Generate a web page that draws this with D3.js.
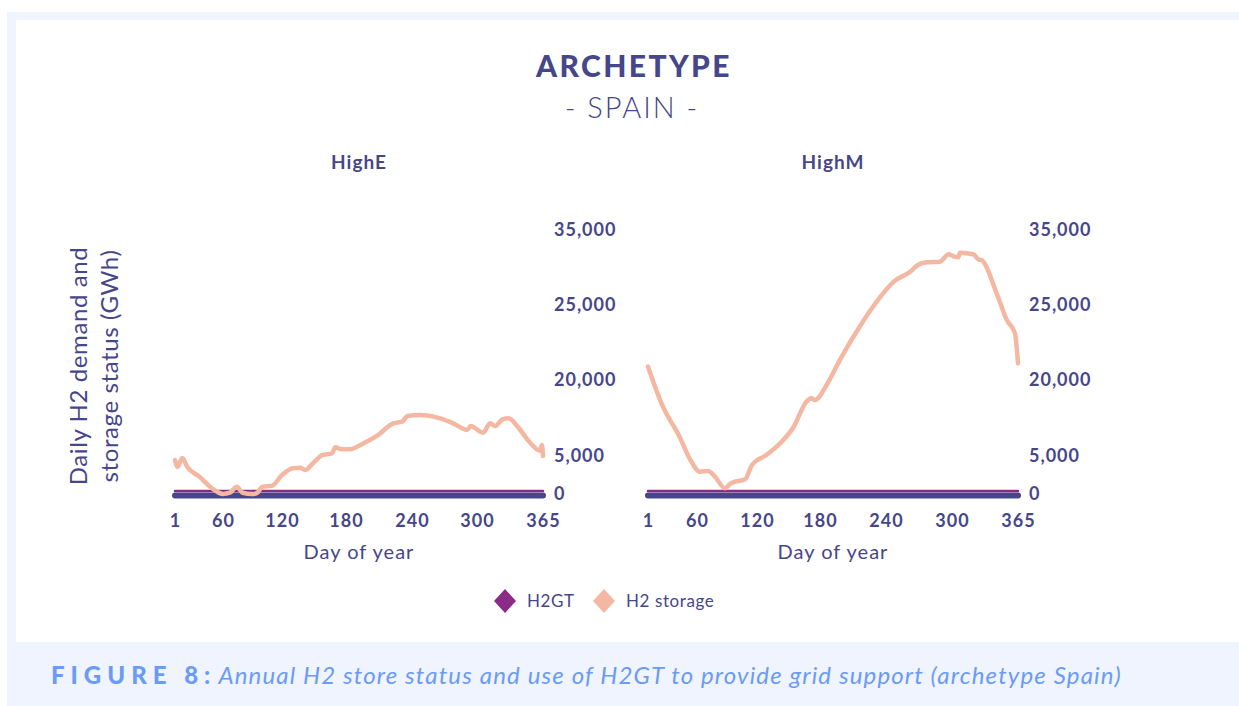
<!DOCTYPE html>
<html><head><meta charset="utf-8">
<script src="https://cdn.jsdelivr.net/npm/d3@7"></script>
<style>
body{margin:0;background:#fff}
svg{display:block}
text{font-family:Lato,'Open Sans',sans-serif}
</style>
</head><body><svg id="c" width="1239" height="706"></svg>
<script>
// ---------- data ----------
const panels = ["HighE", "HighM"];
const seriesNames = ["H2GT", "H2 storage"];
const xTicks = [1, 60, 120, 180, 240, 300, 365];
const yTicks = [0, 5000, 20000, 25000, 35000];

const highEDays    = [1, 4, 10, 16, 31, 46, 60, 67, 74, 80, 90, 95, 100, 110, 120, 130, 137, 142, 149, 158, 167, 170, 176, 184, 193, 208, 223, 231, 236, 247, 266, 278, 291, 294, 306, 313, 318, 325, 331, 340, 350, 359, 362, 364, 365];
const highEStorage = [4470, 3590, 4740, 3590, 2280, 790, 0, 170, 960, 170, 0, 170, 960, 1090, 2500, 3380, 3460, 3160, 4040, 5200, 5530, 6720, 6320, 6320, 7170, 8950, 11450, 11770, 12900, 13100, 12430, 11450, 10130, 10920, 9600, 11450, 10920, 12240, 12430, 10800, 8170, 6320, 6050, 7170, 5000];

const highMDays    = [1, 19, 39, 51, 63, 71, 78, 88, 93, 98, 108, 115, 129, 142, 155, 167, 172, 175, 186, 198, 216, 235, 247, 262, 269, 277, 289, 297, 301, 306, 308, 321, 326, 329, 344, 354, 362, 365];
const highMStorage = [20890, 14730, 8810, 4700, 2930, 3030, 2280, 750, 1320, 1620, 1930, 3820, 5200, 7510, 10780, 15720, 16390, 16050, 19010, 21330, 23550, 26110, 28110, 29440, 30330, 30690, 30780, 31760, 31530, 31360, 31970, 31760, 31090, 31000, 26560, 24000, 23110, 21110];

const h2gtDays  = [1, 365];
const h2gtHighE = [400, 400];
const h2gtHighM = [400, 400];

// ---------- style ----------
const NAVY = "#46468a", PURPLE = "#8a2c86", PEACH = "#f4b8a2";
const CAP = "#6b9bf5", BG = "#eff4fe";

const svg = d3.select("#c");

// frame
svg.append("rect").attr("x", 7).attr("y", 12).attr("width", 1232).attr("height", 694).attr("fill", BG);
svg.append("rect").attr("x", 16).attr("y", 20).attr("width", 1223).attr("height", 622).attr("fill", "#fff");

// titles
svg.append("text").attr("x", 634).attr("y", 77).attr("text-anchor", "middle")
  .attr("font-size", 30).attr("font-weight", 900).attr("letter-spacing", 2.4).attr("fill", NAVY).text("ARCHETYPE");
svg.append("text").attr("x", 632).attr("y", 118).attr("text-anchor", "middle")
  .attr("font-size", 29).attr("font-weight", 300).attr("letter-spacing", 2).attr("fill", NAVY).text("- SPAIN -");

// y axis title
const yt = svg.append("text").attr("transform", "translate(0,366) rotate(-90)")
  .attr("text-anchor", "middle").attr("font-size", 24).attr("fill", NAVY).attr("letter-spacing", 0.6);
yt.append("tspan").attr("x", 0).attr("y", 87).text("Daily H2 demand and");
yt.append("tspan").attr("x", 0).attr("y", 118).text("storage status (GWh)");

const y = d3.scaleLinear().domain(yTicks).range([494, 456, 380, 305, 230]);

const panelDefs = [
  {name: panels[0], xr: [175, 223, 282, 346, 412, 477, 543], ax: 554, days: highEDays, st: highEStorage, gt: h2gtHighE},
  {name: panels[1], xr: [648, 697, 757, 820, 886, 952, 1018], ax: 1029, days: highMDays, st: highMStorage, gt: h2gtHighM}
];

panelDefs.forEach(p => {
  const x = d3.scaleLinear().domain(xTicks).range(p.xr);
  const cx = (p.xr[0] + p.xr[p.xr.length - 1]) / 2;
  const g = svg.append("g");

  g.append("text").attr("x", cx).attr("y", 169).attr("text-anchor", "middle")
    .attr("font-size", 19).attr("font-weight", 700).attr("fill", NAVY).attr("letter-spacing", 1).text(p.name);

  // thick base axis line
  g.append("line").attr("x1", x(1)).attr("x2", x(365)).attr("y1", y(0) + 1.5).attr("y2", y(0) + 1.5)
    .attr("stroke", NAVY).attr("stroke-width", 6).attr("stroke-linecap", "round");

  // H2GT series
  const gtData = h2gtDays.map((d, i) => [d, p.gt[i]]);
  g.append("path").datum(gtData)
    .attr("d", d3.line().x(d => x(d[0])).y(d => y(d[1])))
    .attr("fill", "none").attr("stroke", PURPLE).attr("stroke-width", 2.5).attr("stroke-linecap", "round");

  // H2 storage series
  const stData = p.days.map((d, i) => [d, p.st[i]]);
  g.append("path").datum(stData)
    .attr("d", d3.line().x(d => x(d[0])).y(d => y(d[1])).curve(d3.curveMonotoneX))
    .attr("fill", "none").attr("stroke", PEACH).attr("stroke-width", 4.5)
    .attr("stroke-linejoin", "round").attr("stroke-linecap", "round");

  // x axis
  const xa = g.append("g").attr("transform", `translate(0,${y(0)})`)
    .call(d3.axisBottom(x).tickValues(xTicks).tickSize(0).tickPadding(20).tickFormat(d3.format("d")));
  xa.select(".domain").remove();
  xa.selectAll("text").attr("font-size", 18).attr("font-weight", 700)
    .attr("fill", NAVY).attr("letter-spacing", 1).style("font-family", "Lato,'Open Sans',sans-serif");

  // y axis (right)
  const ya = g.append("g").attr("transform", `translate(${p.ax},0)`)
    .call(d3.axisRight(y).tickValues(yTicks).tickSize(0).tickPadding(0).tickFormat(d3.format(",")));
  ya.select(".domain").remove();
  ya.selectAll("text").attr("font-size", 18).attr("font-weight", 700)
    .attr("fill", NAVY).attr("letter-spacing", 1).style("font-family", "Lato,'Open Sans',sans-serif");

  g.append("text").attr("x", cx).attr("y", 559).attr("text-anchor", "middle")
    .attr("font-size", 20).attr("fill", NAVY).attr("letter-spacing", 1).text("Day of year");
});

// legend
const legColors = [PURPLE, PEACH];
const legX = [505, 604];
seriesNames.forEach((s, i) => {
  const cx = legX[i], cy = 601;
  svg.append("path").attr("d", `M${cx},${cy - 12}L${cx + 11},${cy}L${cx},${cy + 12}L${cx - 11},${cy}Z`).attr("fill", legColors[i]);
  svg.append("text").attr("x", cx + 22).attr("y", 607).attr("font-size", 17).attr("letter-spacing", 0.6)
    .attr("fill", NAVY).text(s);
});

// caption
const cap = svg.append("text").attr("x", 51).attr("y", 684).attr("fill", CAP);
cap.append("tspan").attr("font-size", 24).attr("font-weight", 900).attr("letter-spacing", 6).text("FIGURE 8:");
cap.append("tspan").attr("dx", 2).attr("font-size", 24).attr("font-style", "italic").attr("font-weight", 400)
  .attr("letter-spacing", 1.15).text("Annual H2 store status and use of H2GT to provide grid support (archetype Spain)");
</script>
</body></html>
